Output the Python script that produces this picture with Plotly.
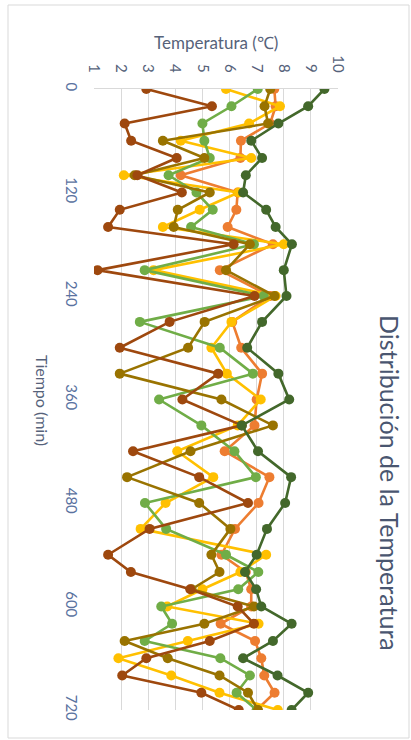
import plotly.graph_objects as go

# Sampling times (min)
tiempo = [0, 20, 40, 60, 80, 100, 120, 140, 160, 180, 210, 240, 270, 300, 330,
          360, 390, 420, 450, 480, 510, 540, 560, 580, 600, 620, 640, 660, 680, 700, 720]

# Temperature readings (°C) per probe
naranja = [7.65, 7.7, 7.5, 6.42, 6.4, 4.2, 6.3, 6.25, 5.93, 7.6, 5.64, 7.5, 6.1, 6.43, 7.2,
           7.0, 6.92, 5.82, 7.47, 7.07, 6.2, 5.7, 6.6, 6.8, 6.8, 5.67, 6.94, 7.17, 7.28, 7.66, 7.0]
amarillo = [5.87, 7.86, 6.72, 4.2, 6.8, 2.1, 6.33, 4.9, 3.54, 8.0, 3.2, 7.7, 6.07, 5.33, 5.9,
            7.15, 6.3, 4.07, 5.4, 3.64, 2.72, 7.35, 6.4, 5.0, 3.7, 7.07, 4.46, 1.9, 3.85, 5.63, 7.78]
verde_claro = [7.04, 6.07, 5.0, 5.07, 5.27, 3.75, 4.78, 5.38, 4.58, 6.9, 2.87, 7.26, 2.69, 5.64, 6.86,
               3.4, 4.96, 6.18, 6.97, 2.88, 3.66, 5.87, 7.06, 6.32, 3.48, 3.88, 2.87, 5.66, 6.75, 6.26, 7.0]
oliva = [7.5, 7.29, 7.42, 3.54, 5.07, 2.5, 5.27, 4.09, 3.94, 6.75, 5.87, 7.66, 5.08, 4.47, 1.95,
         5.7, 7.6, 4.56, 2.22, 4.88, 6.03, 5.33, 5.63, 4.6, 6.9, 5.07, 2.13, 3.72, 5.63, 6.68, 7.05]
marron = [2.93, 5.35, 2.13, 2.37, 4.05, 2.6, 4.24, 1.95, 1.52, 6.15, 1.13, 6.92, 3.79, 1.95, 5.58,
          4.26, 6.45, 2.44, 4.88, 6.68, 3.05, 1.52, 2.36, 4.55, 6.3, 6.9, 5.27, 2.93, 2.04, 4.96, 6.34]
verde_oscuro = [9.5, 8.9, 7.8, 6.8, 7.2, 6.6, 6.5, 7.35, 7.7, 8.3, 8.0, 8.1, 7.2, 6.65, 7.8,
                8.2, 6.45, 7.05, 8.27, 8.05, 7.38, 7.0, 6.57, 6.98, 7.17, 8.29, 7.6, 6.5, 7.77, 8.9, 8.29]

tick_tiempo = [0, 120, 240, 360, 480, 600, 720]
tick_temp = list(range(1, 11))

series = [
    (naranja, "#ed7d31"),
    (amarillo, "#ffc000"),
    (verde_claro, "#70ad47"),
    (oliva, "#997300"),
    (marron, "#9e480e"),
    (verde_oscuro, "#43682b"),
]

W, H = 411, 740
L, R, T, B = 94, 73, 89, 30
pw, ph = W - L - R, H - T - B


def px(x):
    return (x - L) / pw


def py(y):
    return (H - B - y) / ph


txt = "#56627a"
fuente = "Lato, 'Open Sans', sans-serif"

fig = go.Figure()
for vals, col in series:
    fig.add_trace(go.Scatter(
        x=vals, y=tiempo, mode="lines+markers",
        line=dict(color=col, width=2.6),
        marker=dict(color=col, size=10),
        showlegend=False, hoverinfo="skip",
    ))

fig.update_layout(
    width=W, height=H,
    margin=dict(l=L, r=R, t=T, b=B),
    paper_bgcolor="white", plot_bgcolor="white",
    font=dict(family=fuente, color=txt, size=15),
    xaxis=dict(
        range=[1, 10], side="top", tickvals=tick_temp, tickangle=90,
        showgrid=True, gridcolor="#d9d9d9", gridwidth=1,
        showline=True, linecolor="#d9d9d9", linewidth=1,
        zeroline=False, ticks="", ticklabelstandoff=10,
        tickfont=dict(size=15, color=txt),
    ),
    yaxis=dict(
        range=[720, 0], tickvals=tick_tiempo, tickangle=90,
        showgrid=False, zeroline=False, showline=False, ticks="",
        ticklabelstandoff=12,
        tickfont=dict(size=15, color="#5a72a0"),
    ),
    shapes=[dict(
        type="rect", xref="paper", yref="paper",
        x0=px(8), x1=px(409), y0=py(738), y1=py(5),
        line=dict(color="#d9d9d9", width=1), layer="below",
    )],
    annotations=[
        dict(text="Temperatura (℃)", xref="paper", yref="paper",
             x=px(216), y=py(42), xanchor="center", yanchor="middle",
             showarrow=False, font=dict(size=17, color=txt)),
        dict(text="Tiempo (min)", xref="paper", yref="paper",
             x=px(43), y=py(400), xanchor="center", yanchor="middle",
             showarrow=False, textangle=90, font=dict(size=16, color=txt)),
        dict(text="Distribución de la Temperatura", xref="paper", yref="paper",
             x=px(390), y=py(483), xanchor="center", yanchor="middle",
             showarrow=False, textangle=90,
             font=dict(size=25, color="#4a5670")),
    ],
)

fig.write_html("out.html")
